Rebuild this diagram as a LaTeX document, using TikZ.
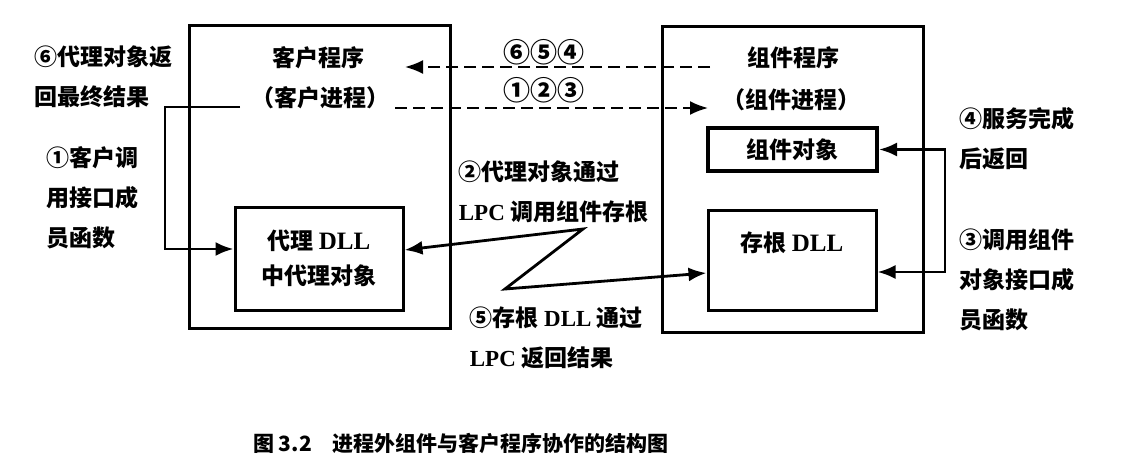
\documentclass[tikz,border=0pt]{standalone}
\usepackage{fontspec}
\setmainfont{Noto Sans CJK SC}
\newfontfamily\enfont{Liberation Serif}
\usetikzlibrary{arrows.meta}

\begin{document}
\begin{tikzpicture}[x=0.5pt,y=0.5pt,yscale=-1,xscale=1,
  box/.style={draw,line width=1.5pt,inner sep=0pt},
  title/.style={inner sep=0.75pt,font=\fontsize{11.5}{13}\selectfont\bfseries},
  lbl/.style={anchor=west,inner sep=0.75pt,align=left,font=\fontsize{11.5}{20}\selectfont\bfseries},
  conn/.style={line width=1.4pt,{Latex[length=9pt,width=7pt]}-{Latex[length=9pt,width=7pt]}},
  callarr/.style={line width=1.4pt,-{Latex[length=9pt,width=7pt]}},
  msg/.style={line width=1pt,dash pattern=on 6pt off 3pt,-{Latex[length=9pt,width=7pt]}}]
\useasboundingbox (0,0) rectangle (1121,472);

%Shape: Rectangle [client program]
\draw (319.5,176.5) node [box,minimum width=130.5pt,minimum height=151.5pt] (client) {};
%Shape: Rectangle [component program]
\draw (792.5,179) node [box,minimum width=130.5pt,minimum height=153pt] (server) {};
%Shape: Rectangle [proxy dll]
\draw (319,258.5) node [box,minimum width=84pt,minimum height=51.5pt,align=center,font=\fontsize{11.5}{17.5}\selectfont\bfseries] (proxy) {代理 {\enfont\fontsize{12.5}{17.5}\selectfont DLL}\\中代理对象};
%Shape: Rectangle [stub dll]
\draw (792,260) node [box,minimum width=84pt,minimum height=50pt,align=center,font=\fontsize{11.5}{17.5}\selectfont\bfseries] (stub) {存根 {\enfont\fontsize{12.5}{17.5}\selectfont DLL}\\\phantom{中}};
%Shape: Rectangle [component object]
\draw (792.5,149.5) node [box,line width=2pt,minimum width=84.5pt,minimum height=21.5pt,font=\fontsize{11.5}{13}\selectfont\bfseries] (compobj) {组件对象};

% Text Node
\draw (318,58) node [title] (clientname) {客户程序};
% Text Node
\draw (320,98) node [title] (clientproc) {（客户进程）};
% Text Node
\draw (793,58) node [title] (servername) {组件程序};
% Text Node
\draw (791,100) node [title] (serverproc) {（组件进程）};
% Text Node
\draw (544,52) node [title,font=\fontsize{13.5}{15}\selectfont\bfseries] (retnum) {⑥⑤④};
% Text Node
\draw (544,90) node [title,font=\fontsize{13.5}{15}\selectfont\bfseries] (callnum) {①②③};

% Text Node
\draw (33,77) node [lbl] (lblsix) {⑥代理对象返\\回最终结果};
% Text Node
\draw (45,198) node [lbl] (lblone) {①客户调\\用接口成\\员函数};
% Text Node
\draw (457,192) node [lbl] (lbltwo) {②代理对象通过\\{\enfont LPC} 调用组件存根};
% Text Node
\draw (468,338) node [lbl] (lblfive) {⑤存根 {\enfont DLL} 通过\\{\enfont LPC} 返回结果};
% Text Node
\draw (958,138.5) node [lbl] (lblfour) {④服务完成\\后返回};
% Text Node
\draw (958,280) node [lbl] (lblthree) {③调用组件\\对象接口成\\员函数};
% Text Node
\draw (461,443) node [inner sep=0.75pt,font=\fontsize{10.5}{12}\selectfont\bfseries] (caption) {图 3.2\quad 进程外组件与客户程序协作的结构图};

%Dashed Lines
\coordinate (retfrom) at (710,67);
\coordinate (retto) at (405,67);
\draw [msg] (retfrom) -- (retto);
\coordinate (callfrom) at (395,108);
\coordinate (callto) at (708,108);
\draw [msg] (callfrom) -- (callto);

%Straight Lines [client call]
\coordinate (callst) at (240,107);
\coordinate (callturn) at (165,107);
\draw [callarr] (callst) -- (callturn) |- ([yshift=-4.75pt]proxy.west);
%Straight Lines [stub call]
\coordinate (stubturn) at (945,149.5);
\draw [conn] (compobj.east) -- (stubturn) |- ([yshift=6pt]stub.east);
%Straight Lines [lpc]
\coordinate (zigone) at (583,229);
\coordinate (zigtwo) at (505,289);
\draw [conn] ([yshift=-4.25pt]proxy.east) -- (zigone) -- (zigtwo) -- ([yshift=6.5pt]stub.west);

\end{tikzpicture}
\end{document}
